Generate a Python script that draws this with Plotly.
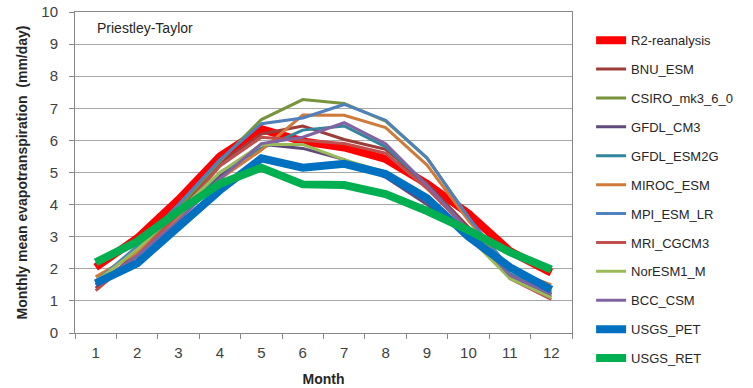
import plotly.graph_objects as go

months = [str(m) for m in range(1, 13)]

r2_reanalysis = [2.05, 2.95, 4.15, 5.5, 6.35, 5.97, 5.78, 5.42, 4.65, 3.72, 2.55, 1.88]
bnu_esm       = [1.4, 2.5, 3.8, 5.3, 6.2, 6.45, 6.03, 5.72, 4.65, 3.3, 1.8, 1.12]
csiro_mk3     = [1.6, 2.6, 3.9, 5.35, 6.65, 7.27, 7.15, 6.6, 5.45, 3.6, 1.8, 1.2]
gfdl_cm3      = [1.5, 2.4, 3.6, 4.9, 5.88, 5.75, 5.4, 4.85, 4.0, 3.0, 1.8, 1.2]
gfdl_esm2g    = [1.5, 2.4, 3.6, 5.0, 5.75, 6.32, 6.45, 5.8, 4.6, 3.2, 1.85, 1.25]
miroc_esm     = [1.75, 2.5, 3.6, 4.8, 5.7, 6.79, 6.78, 6.4, 5.23, 3.5, 2.0, 1.5]
mpi_esm_lr    = [1.6, 2.7, 4.0, 5.4, 6.52, 6.7, 7.12, 6.63, 5.45, 3.6, 2.0, 1.3]
mri_cgcm3     = [1.32, 2.4, 3.7, 5.2, 6.1, 6.0, 5.9, 5.6, 4.5, 3.2, 1.7, 1.05]
noresm1_m     = [1.6, 2.6, 3.8, 5.0, 5.87, 5.87, 5.4, 5.0, 4.2, 3.0, 1.7, 1.1]
bcc_csm       = [1.5, 2.4, 3.5, 4.8, 5.9, 6.1, 6.55, 5.9, 4.6, 3.2, 1.8, 1.2]
usgs_pet      = [1.55, 2.17, 3.31, 4.45, 5.44, 5.15, 5.27, 4.95, 4.2, 3.0, 2.05, 1.35]
usgs_ret      = [2.2, 2.85, 3.8, 4.65, 5.15, 4.63, 4.61, 4.33, 3.8, 3.2, 2.52, 1.98]

series = [
    ("R2-reanalysis", r2_reanalysis, "#FF0000", 8),
    ("BNU_ESM", bnu_esm, "#9C3D3A", 3),
    ("CSIRO_mk3_6_0", csiro_mk3, "#77933C", 3),
    ("GFDL_CM3", gfdl_cm3, "#604A7B", 3),
    ("GFDL_ESM2G", gfdl_esm2g, "#31859C", 3),
    ("MIROC_ESM", miroc_esm, "#D07A3A", 3),
    ("MPI_ESM_LR", mpi_esm_lr, "#4F81BD", 3),
    ("MRI_CGCM3", mri_cgcm3, "#C0504D", 3),
    ("NorESM1_M", noresm1_m, "#9BBB59", 3),
    ("BCC_CSM", bcc_csm, "#8064A2", 3),
    ("USGS_PET", usgs_pet, "#0070C0", 8),
    ("USGS_RET", usgs_ret, "#00B050", 8),
]

font = "Liberation Sans"

fig = go.Figure()
for i, (name, vals, color, width) in enumerate(series):
    fig.add_trace(go.Scatter(
        x=months, y=vals, name=name, mode="lines",
        line=dict(color=color, width=width),
        legendgroup=f"g{i}",
    ))

fig.update_layout(
    width=753, height=388,
    margin=dict(l=75, r=181, t=12, b=55),
    paper_bgcolor="white", plot_bgcolor="white",
    font=dict(family=font, size=14, color="#404040"),
    showlegend=True,
    legend=dict(
        xref="container", yref="container",
        x=0.785, y=0.935, xanchor="left", yanchor="top",
        font=dict(family=font, size=13, color="#262626"),
        tracegroupgap=9.0, itemwidth=30,
        bgcolor="rgba(0,0,0,0)",
        maxheight=1.0,
    ),
    annotations=[dict(
        text="Priestley-Taylor", xref="paper", yref="paper",
        x=0.04, y=0.98, xanchor="left", yanchor="top", showarrow=False,
        font=dict(family=font, size=14, color="#262626"),
    )],
)

fig.update_xaxes(
    type="category", range=[-0.5, 11.5], tickson="boundaries",
    ticks="outside", ticklen=5, automargin=False,
    tickcolor="#888888", showline=True, linecolor="#888888", mirror=True,
    showgrid=False, ticklabelstandoff=6,
    title=dict(text="<b>Month</b>", font=dict(family=font, size=14, color="#262626"), standoff=14),
    tickfont=dict(family=font, size=15, color="#404040"),
)
fig.update_yaxes(
    range=[0, 10], dtick=1, ticks="outside", ticklen=5, tickcolor="#888888",
    showline=True, linecolor="#888888", mirror=True, automargin=False,
    showgrid=True, gridcolor="#A6A6A6", gridwidth=1, zeroline=False,
    ticklabelstandoff=8,
    title=dict(text="<b>Monthly mean evapotranspiration  (mm/day)</b>",
               font=dict(family=font, size=14, color="#262626"), standoff=10),
    tickfont=dict(family=font, size=15, color="#404040"),
)

fig.write_html("out.html")
